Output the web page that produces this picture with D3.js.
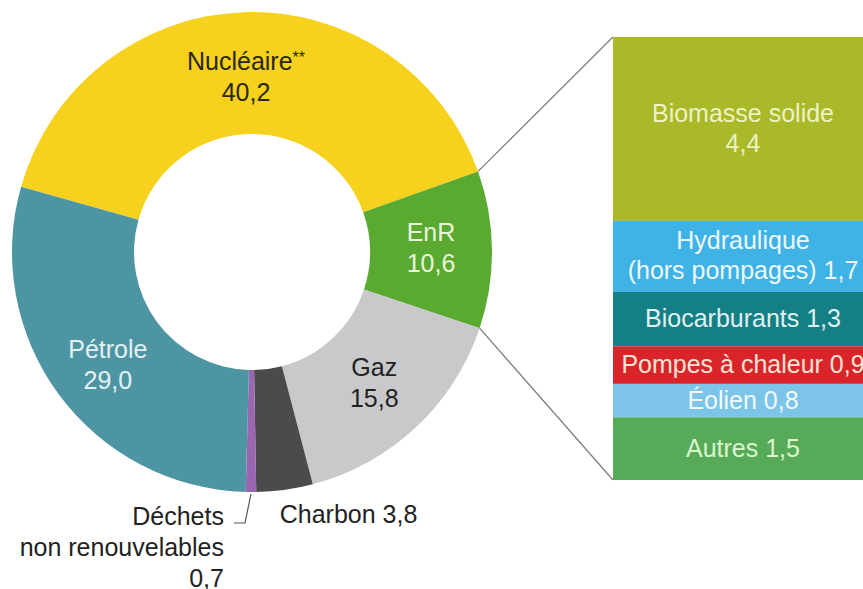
<!DOCTYPE html>
<html lang="fr">
<head>
  <meta charset="UTF-8">
  <title>Consommation d'énergie primaire</title>
  <script src="https://d3js.org/d3.v7.min.js"></script>
  <style>
    body {
      margin: 0;
      padding: 0;
      background: #ffffff;
    }
    svg {
      display: block;
      font-family: 'Liberation Sans', Arial, sans-serif;
    }
  </style>
</head>
<body>
  <svg id="chart" width="863" height="589"></svg>

  <script>
    // Donut : mix énergétique (%)
    const sources = ["Nucléaire", "EnR", "Gaz", "Charbon", "Déchets non renouvelables", "Pétrole"];
    const shares = [40.2, 10.6, 15.8, 3.8, 0.7, 29.0];
    const shareLabels = ["40,2", "10,6", "15,8", "3,8", "0,7", "29,0"];
    const sourceColors = ["#f6d21e", "#5aaa32", "#c9c9cb", "#4b4b4d", "#9a66b0", "#4e95a4"];

    // Détail des EnR
    const enrNames = ["Biomasse solide", "Hydraulique", "Biocarburants", "Pompes à chaleur", "Éolien", "Autres"];
    const enrValues = [4.4, 1.7, 1.3, 0.9, 0.8, 1.5];
    const enrValueLabels = ["4,4", "1,7", "1,3", "0,9", "0,8", "1,5"];
    const enrColors = ["#a9b92a", "#3fb2e6", "#157f86", "#d9252a", "#7cc4e8", "#57ab58"];

    const svg = d3.select("#chart");

    const cx = 252, cy = 252;
    const outerR = 240, innerR = 118;
    const startDeg = -74.2;

    const pie = d3.pie()
      .sort(null)
      .value(d => d)
      .startAngle(startDeg * Math.PI / 180)
      .endAngle(startDeg * Math.PI / 180 + 2 * Math.PI);

    const arcs = pie(shares);
    const arc = d3.arc().innerRadius(innerR).outerRadius(outerR);
    const outerArc = d3.arc().innerRadius(outerR).outerRadius(outerR);

    const donut = svg.append("g").attr("transform", `translate(${cx},${cy})`);

    donut.selectAll("path")
      .data(arcs)
      .join("path")
      .attr("d", arc)
      .attr("fill", (d, i) => sourceColors[i]);

    // barre EnR
    const bar = { x: 613, w: 262, top: 37, bottom: 480 };
    const ys = d3.scaleLinear()
      .domain([0, d3.sum(enrValues)])
      .range([bar.top, bar.bottom]);
    const cum = d3.cumsum(enrValues);
    const segs = enrValues.map((v, i) => ({ i, y0: cum[i] - v, y1: cum[i] }));

    svg.append("g")
      .selectAll("rect")
      .data(segs)
      .join("rect")
      .attr("x", bar.x)
      .attr("width", bar.w)
      .attr("y", d => ys(d.y0))
      .attr("height", d => ys(d.y1) - ys(d.y0))
      .attr("fill", d => enrColors[d.i]);

    // traits de liaison EnR -> barre
    const enr = arcs[1];
    const pt = a => [cx + outerR * Math.sin(a), cy - outerR * Math.cos(a)];
    const p0 = pt(enr.startAngle), p1 = pt(enr.endAngle);
    svg.append("g")
      .attr("stroke", "#7a7a7a")
      .attr("stroke-width", 1.2)
      .selectAll("line")
      .data([[p0, [bar.x, ys(0)]], [p1, [bar.x, ys(d3.sum(enrValues))]]])
      .join("line")
      .attr("x1", d => d[0][0]).attr("y1", d => d[0][1])
      .attr("x2", d => d[1][0]).attr("y2", d => d[1][1]);

    // étiquettes du donut
    const labelArc = d3.arc().innerRadius((innerR + outerR) / 2).outerRadius((innerR + outerR) / 2);
    const inLabels = [
      { i: 0, fill: "#2a2716", dy: 0, star: true },
      { i: 1, fill: "#eaf6dc", dy: -6 },
      { i: 2, fill: "#222222", dy: -4 },
      { i: 5, fill: "#e3f1f1", dy: 3 }
    ];

    const lab = donut.selectAll("g.lab")
      .data(inLabels)
      .join("g")
      .attr("class", "lab")
      .attr("transform", d => {
        const [x, y] = labelArc.centroid(arcs[d.i]);
        return `translate(${x},${y + d.dy})`;
      })
      .attr("text-anchor", "middle")
      .attr("font-size", 25)
      .attr("fill", d => d.fill);

    const nameText = lab.append("text").attr("y", -3);
    nameText.append("tspan").text(d => sources[d.i]);
    nameText.filter(d => d.star)
      .append("tspan")
      .attr("font-size", 16)
      .attr("dy", -7)
      .text("**");
    lab.append("text").attr("y", 28).text(d => shareLabels[d.i]);

    // Charbon
    const charbonPt = outerArc.centroid(arcs[3]);
    svg.append("text")
      .attr("x", cx + charbonPt[0] - 5)
      .attr("y", cy + charbonPt[1] + 33)
      .attr("font-size", 25)
      .attr("fill", "#222")
      .text(sources[3] + " " + shareLabels[3]);

    // Déchets
    const dPt = outerArc.centroid(arcs[4]);
    const dx = cx + dPt[0], dy = cy + dPt[1];
    svg.append("polyline")
      .attr("points", `${dx},${dy + 2} ${dx - 6},${dy + 31} ${dx - 17},${dy + 31}`)
      .attr("fill", "none")
      .attr("stroke", "#555")
      .attr("stroke-width", 1.2);

    const dText = svg.append("text")
      .attr("text-anchor", "end")
      .attr("font-size", 25)
      .attr("fill", "#222");
    ["Déchets", "non renouvelables", shareLabels[4]].forEach((t, k) => {
      dText.append("tspan").attr("x", dx - 27).attr("y", dy + 33 + k * 31).text(t);
    });

    // étiquettes de la barre
    const barTexts = [
      [enrNames[0], enrValueLabels[0]],
      [enrNames[1], "(hors pompages) " + enrValueLabels[1]],
      [enrNames[2] + " " + enrValueLabels[2]],
      [enrNames[3] + " " + enrValueLabels[3]],
      [enrNames[4] + " " + enrValueLabels[4]],
      [enrNames[5] + " " + enrValueLabels[5]]
    ];
    const barTextColors = ["#eef2c2", "#eef8fd", "#e0f1f0", "#fde3d6", "#f2fafd", "#dcf5cf"];

    svg.append("g")
      .attr("text-anchor", "middle")
      .attr("font-size", 25)
      .selectAll("text")
      .data(segs)
      .join("text")
      .attr("fill", d => barTextColors[d.i])
      .each(function (d) {
        const lines = barTexts[d.i];
        const mid = (ys(d.y0) + ys(d.y1)) / 2;
        const first = mid + 8 - (lines.length - 1) * 15;
        lines.forEach((t, k) => {
          d3.select(this).append("tspan")
            .attr("x", bar.x + 130)
            .attr("y", first + k * 30)
            .text(t);
        });
      });
  </script>
</body>
</html>
